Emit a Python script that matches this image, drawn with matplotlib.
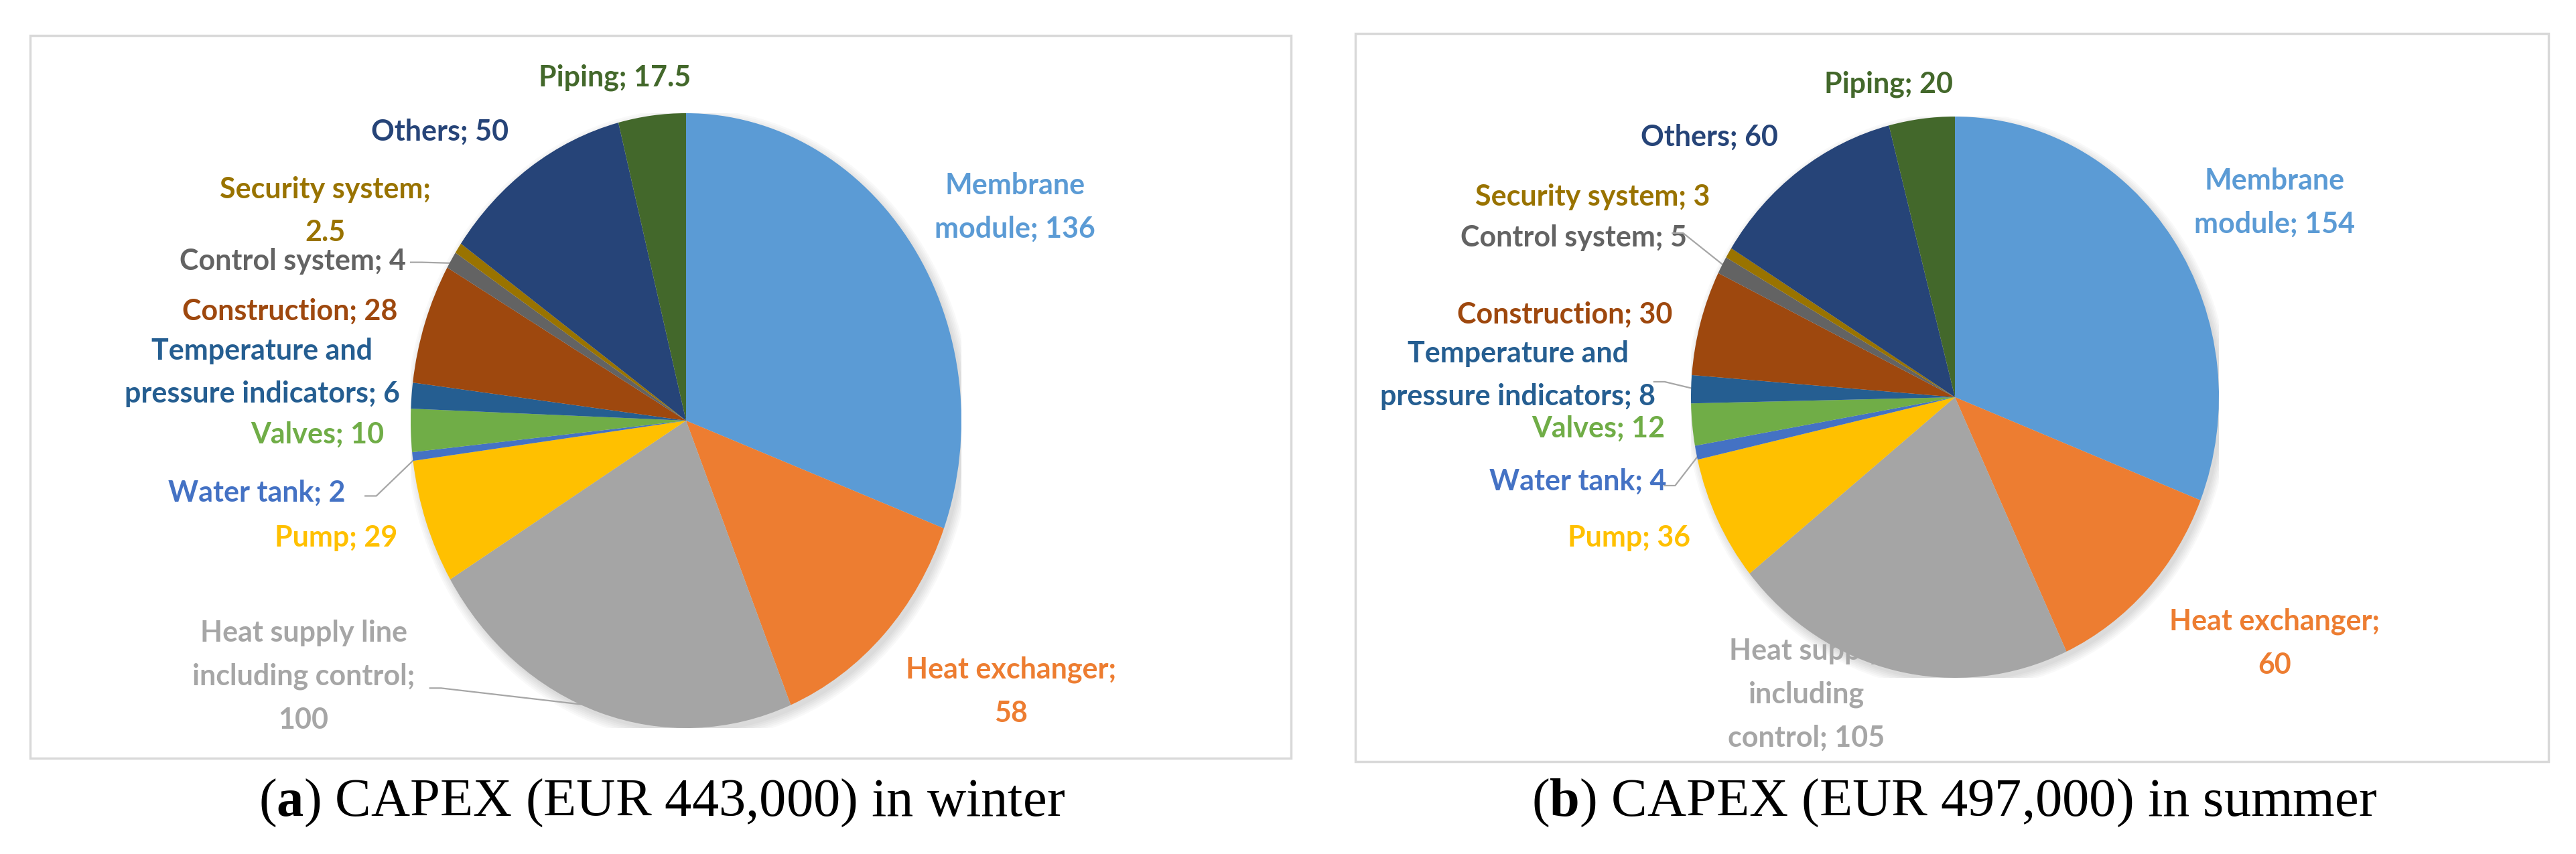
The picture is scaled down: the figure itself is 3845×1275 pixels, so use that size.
import numpy as np
import matplotlib.pyplot as plt
from matplotlib.patches import Rectangle, Ellipse

plt.rcParams['font.family'] = ['Lato', 'DejaVu Sans']
plt.rcParams['mathtext.fontset'] = 'custom'
plt.rcParams['mathtext.rm'] = 'Liberation Serif'
plt.rcParams['mathtext.bf'] = 'Liberation Serif:bold'

W, H = 3845, 1275

# categories in clockwise order from 12 o'clock
names_winter = ["Membrane\nmodule", "Heat exchanger;\n", "Heat supply line\nincluding control;\n",
                "Pump", "Water tank", "Valves", "Temperature and\npressure indicators",
                "Construction", "Control system", "Security system;\n", "Others", "Piping"]
names_summer = ["Membrane\nmodule", "Heat exchanger;\n", "Heat supply\nincluding\ncontrol",
                "Pump", "Water tank", "Valves", "Temperature and\npressure indicators",
                "Construction", "Control system", "Security system", "Others", "Piping"]
winter = [136, 58, 100, 29, 2, 10, 6, 28, 4, 2.5, 50, 17.5]
summer = [154, 60, 105, 36, 4, 12, 8, 30, 5, 3, 60, 20]
colors = ["#5B9BD5", "#ED7D31", "#A5A5A5", "#FFC000", "#4472C4", "#70AD47",
          "#255E91", "#9E480E", "#636363", "#997300", "#264478", "#43682B"]
captions = [r"($\mathbf{a}$) CAPEX (EUR 443,000) in winter",
            r"($\mathbf{b}$) CAPEX (EUR 497,000) in summer"]

# label anchor positions (axes data units, pie radius = 1)
pos_winter = [(1.195, 0.695), (1.18, -0.88), (-1.389, -0.832), (-1.27, -0.381),
              (-1.56, -0.235), (-1.338, -0.044), (-1.54, 0.157), (-1.438, 0.355),
              (-1.428, 0.519), (-1.311, 0.682), (-0.895, 0.939), (-0.258, 1.115)]
pos_summer = [(1.211, 0.694), (1.211, -0.876), (-0.563, -1.06), (-1.234, -0.501),
              (-1.429, -0.301), (-1.35, -0.112), (-1.655, 0.079), (-1.477, 0.294),
              (-1.444, 0.568), (-1.373, 0.714), (-0.931, 0.926), (-0.251, 1.115)]
# which labels get a leader line: index -> label edge (data units)
lead_winter = {8: (-1.0, 0.515), 4: (-1.165, -0.245), 2: (-0.93, -0.87)}
lead_summer = {8: (-1.07, 0.585), 6: (-1.14, 0.055), 4: (-1.1, -0.315)}

panels = [
    # box (px), pie centre / radii (px), caption x
    dict(vals=winter, names=names_winter, pos=pos_winter, lead=lead_winter,
         box=(45, 53, 1927, 1132), c=(1024, 628), r=(411, 459), cap=988),
    dict(vals=summer, names=names_summer, pos=pos_summer, lead=lead_summer,
         box=(2023, 50, 3804, 1137), c=(2918, 593), r=(394, 419), cap=2917),
]

fig = plt.figure(figsize=(W / 100, H / 100), dpi=100)

for n, p in enumerate(panels):
    x0, y0, x1, y1 = p['box']
    fig.patches.append(Rectangle((x0 / W, 1 - y1 / H), (x1 - x0) / W, (y1 - y0) / H,
                                 transform=fig.transFigure, fill=False,
                                 edgecolor="#D9D9D9", lw=2.5))
    cx, cy = p['c']
    rx, ry = p['r']
    ax = fig.add_axes([(cx - rx) / W, 1 - (cy + ry) / H, 2 * rx / W, 2 * ry / H])
    ax.set_facecolor('none')

    # soft shadow
    for k in range(6):
        ax.add_patch(Ellipse((0.012, -0.015), 2 + 0.012 * k, 2 + 0.012 * k,
                             facecolor='black', edgecolor='none', alpha=0.025, zorder=0.5))

    wedges, _ = ax.pie(p['vals'], colors=colors, startangle=90, counterclock=False,
                       radius=1, wedgeprops=dict(linewidth=0))
    for w in wedges:
        w.set_zorder(2)
    ax.set_aspect('auto')
    ax.set_xlim(-1, 1)
    ax.set_ylim(-1, 1)
    ax.axis('off')

    vals = np.array(p['vals'], dtype=float)
    cum = np.concatenate([[0], np.cumsum(vals)]) / vals.sum()
    mid = np.deg2rad(90 - 360 * (cum[:-1] + cum[1:]) / 2)

    for i, (name, v) in enumerate(zip(p['names'], vals)):
        vs = ('%g' % v)
        if name.endswith('\n'):
            txt = name + vs
        else:
            txt = name + '; ' + vs
        col = colors[i]
        if i == 2:
            col = "#A6A6A6"
        lx, ly = p['pos'][i]
        ax.text(lx, ly, txt, ha='center', va='center', color=col, fontsize=31,
                fontweight='bold', linespacing=1.75, zorder=1, clip_on=False)

    for i, (sx, sy) in p['lead'].items():
        ex, ey = 0.98 * np.cos(mid[i]), 0.98 * np.sin(mid[i])
        ax.plot([sx, sx + 0.04, ex], [sy, sy, ey], color="#A6A6A6", lw=1.6,
                zorder=1.5, clip_on=False)

    fig.text(p['cap'] / W, 1 - 1199 / H, captions[n], ha='center',
             va='center', fontsize=58, family='Liberation Serif')

fig.savefig('out.png', dpi=100, facecolor='white')
